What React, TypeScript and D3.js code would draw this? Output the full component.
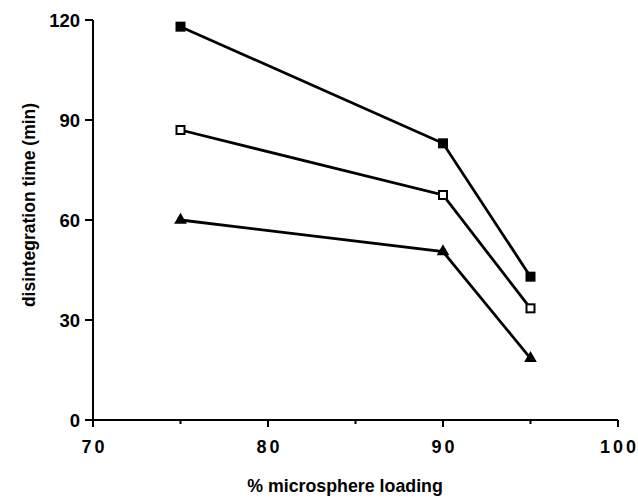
import React from "react";
import * as d3 from "d3";

const loadings = [75, 90, 95];
const filledSquares = [118, 83, 43];
const openSquares = [87, 67.5, 33.5];
const triangles = [60, 50.5, 18.5];
const xTicks = [70, 80, 90, 100];
const xMinorTicks = [75, 85, 95];
const yTicks = [0, 30, 60, 90, 120];

const W = 638;
const H = 498;
const FONT = "'Liberation Sans', Arial, Helvetica, sans-serif";

export default function App() {
  const x = d3.scaleLinear().domain([70, 100]).range([93, 618]);
  const y = d3.scaleLinear().domain([0, 120]).range([420, 20]);
  const line = d3
    .line<number>()
    .x((_, i) => x(loadings[i]))
    .y((d) => y(d));

  const series = [
    { key: "filled", values: filledSquares },
    { key: "open", values: openSquares },
    { key: "tri", values: triangles },
  ];
  const tri = d3.symbol().type(d3.symbolTriangle).size(70)() as string;

  return (
    <svg
      width={W}
      height={H}
      style={{ position: "absolute", left: 0, top: 0, background: "#fff" }}
      fontFamily={FONT}
    >
      {/* axes */}
      <line x1={x(70)} x2={x(100)} y1={y(0)} y2={y(0)} stroke="#000" strokeWidth={2} />
      <line x1={x(70)} x2={x(70)} y1={y(0)} y2={y(120)} stroke="#000" strokeWidth={2} />
      {yTicks.map((t) => (
        <g key={"y" + t}>
          <line x1={x(70) - 8} x2={x(70)} y1={y(t)} y2={y(t)} stroke="#000" strokeWidth={2} />
          <text
            x={x(70) - 13}
            y={y(t)}
            dy="0.36em"
            textAnchor="end"
            fontSize={18.5}
            fontWeight="bold"
          >
            {t}
          </text>
        </g>
      ))}
      {xTicks.map((t) => (
        <g key={"x" + t}>
          <line x1={x(t)} x2={x(t)} y1={y(0)} y2={y(0) + 7} stroke="#000" strokeWidth={2} />
          <text
            x={x(t) + 1.5}
            y={y(0) + 33}
            textAnchor="middle"
            fontSize={18}
            fontWeight="bold"
            letterSpacing={3}
          >
            {t}
          </text>
        </g>
      ))}
      {xMinorTicks.map((t) => (
        <line key={"m" + t} x1={x(t)} x2={x(t)} y1={y(0)} y2={y(0) + 4} stroke="#000" strokeWidth={2} />
      ))}
      <text x={345} y={492} textAnchor="middle" fontSize={17.8} fontWeight="bold">
        % microsphere loading
      </text>
      <text
        transform="translate(35,205) rotate(-90)"
        textAnchor="middle"
        fontSize={17.5}
        fontWeight="bold"
      >
        disintegration time (min)
      </text>

      {/* lines */}
      {series.map((s) => (
        <path key={s.key} d={line(s.values) || ""} fill="none" stroke="#000" strokeWidth={2.8} />
      ))}
      {/* markers */}
      {filledSquares.map((v, i) => (
        <rect key={"f" + i} x={x(loadings[i]) - 5} y={y(v) - 5} width={10} height={10} fill="#000" />
      ))}
      {openSquares.map((v, i) => (
        <rect
          key={"o" + i}
          x={x(loadings[i]) - 4}
          y={y(v) - 4}
          width={8}
          height={8}
          fill="#fff"
          stroke="#000"
          strokeWidth={2}
        />
      ))}
      {triangles.map((v, i) => (
        <path key={"t" + i} d={tri} transform={`translate(${x(loadings[i])},${y(v)})`} fill="#000" />
      ))}
    </svg>
  );
}
